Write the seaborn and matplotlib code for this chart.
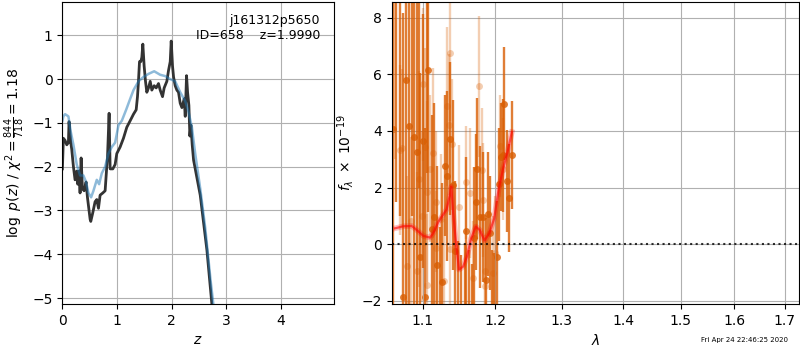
import numpy as np
import pandas as pd
import seaborn as sns
import matplotlib.pyplot as plt
from matplotlib.ticker import ScalarFormatter, NullLocator

# p(z) curves (left panel)
z_fit = [0.0, 0.018, 0.049, 0.080, 0.110, 0.122, 0.153, 0.171, 0.202, 0.232,
         0.263, 0.281, 0.306, 0.324, 0.343, 0.367, 0.398, 0.434, 0.459, 0.508,
         0.520, 0.557, 0.599, 0.630, 0.661, 0.691, 0.740, 0.783, 0.813, 0.826,
         0.856, 0.875, 0.924, 0.966, 0.997, 1.058, 1.119, 1.180, 1.242, 1.303,
         1.352, 1.376, 1.394, 1.413, 1.437, 1.456, 1.474, 1.498, 1.523, 1.547,
         1.578, 1.609, 1.639, 1.682, 1.719, 1.761, 1.792, 1.835, 1.865, 1.914,
         1.945, 1.976, 1.994, 2.018, 2.037, 2.067, 2.098, 2.128, 2.159, 2.190,
         2.232, 2.251, 2.275, 2.294, 2.318, 2.336, 2.355, 2.379, 2.404, 2.526,
         2.648, 2.740, 2.800]
logpz_fit = [-2.05, -1.35, -1.40, -1.50, -1.45, -0.97, -1.45, -1.60, -2.00, -2.30,
             -2.10, -2.40, -2.10, -2.60, -1.80, -2.50, -2.55, -2.35, -2.70, -3.20,
             -3.25, -3.05, -2.80, -2.75, -2.95, -2.65, -2.60, -2.55, -2.00, -1.80,
             -0.78, -2.05, -2.05, -1.95, -1.70, -1.55, -1.35, -1.10, -0.95, -0.80,
             -0.70, -0.40, -0.05, 0.40, 0.40, 0.50, 0.80, 0.30, -0.05, -0.30,
             -0.20, -0.05, -0.25, -0.15, -0.20, -0.10, -0.25, -0.40, -0.20, -0.05,
             0.20, 0.40, 0.87, 0.30, 0.05, -0.15, -0.25, -0.30, -0.55, -0.65,
             -0.45, -0.85, 0.08, -0.30, -0.60, -1.30, -1.05, -1.50, -1.85, -2.65,
             -3.90, -5.15, -5.70]

z_prior = [0.0, 0.018, 0.049, 0.110, 0.153, 0.202, 0.263, 0.324, 0.385, 0.434,
           0.477, 0.526, 0.569, 0.630, 0.673, 0.722, 0.783, 0.844, 0.905, 0.966,
           1.028, 1.089, 1.168, 1.242, 1.303, 1.394, 1.486, 1.578, 1.682, 1.792,
           1.884, 1.976, 2.067, 2.159, 2.251, 2.312, 2.373, 2.434, 2.526, 2.618,
           2.716, 2.800]
logpz_prior = [-0.95, -0.85, -0.80, -0.85, -1.20, -1.50, -1.95, -2.20, -2.20, -2.35,
               -2.60, -2.70, -2.55, -2.30, -2.40, -2.15, -2.00, -1.70, -1.55, -1.45,
               -1.05, -0.95, -0.70, -0.45, -0.25, -0.05, 0.05, 0.12, 0.18, 0.10,
               0.07, 0.00, -0.05, -0.30, -0.50, -0.75, -1.10, -1.70, -2.50, -3.40,
               -4.60, -5.50]

# spectrum, first beam (solid points)
wave_a = [1.0617, 1.0655, 1.0705, 1.0738, 1.0781, 1.0824, 1.0860, 1.0889, 1.0929, 1.0950,
          1.0964, 1.1008, 1.1034, 1.1050, 1.1074, 1.1119, 1.1154, 1.1186, 1.1230, 1.1261,
          1.1298, 1.1320, 1.1365, 1.1410, 1.1440, 1.1470, 1.1520, 1.1570, 1.1585, 1.1630,
          1.1670, 1.1705, 1.1724, 1.1742, 1.1789, 1.1826, 1.1863, 1.1901, 1.1929, 1.1960,
          1.1990, 1.2022, 1.2051, 1.2085, 1.2108, 1.2132, 1.2180, 1.2204, 1.2252]
flux_a = [4.08, 9.5, 10.0, -1.85, 5.79, 4.17, 9.0, 3.77, 3.25, 9.5,
          -0.47, 3.64, -1.88, 10.0, 6.14, 0.55, 0.97, -0.73, -2.6, -1.33,
          2.77, 2.42, 3.73, 2.09, -0.26, -2.5, -2.8, -2.3, 0.48, -2.6,
          -3.0, 0.23, 1.48, 2.67, 0.95, 0.95, -1.26, 1.07, 0.39, -2.9,
          -2.7, -0.47, 2.11, 3.08, 3.14, 4.96, 2.23, 1.63, 3.14]
err_a = [7.0, 8.0, 9.0, 10.0, 8.0, 7.0, 8.0, 6.0, 6.0, 7.5,
         6.5, 4.5, 6.0, 7.5, 5.0, 4.0, 4.0, 3.5, 3.2, 3.5,
         2.5, 3.0, 2.7, 3.0, 2.5, 2.6, 2.4, 2.3, 2.6, 2.4,
         2.3, 2.5, 2.4, 2.5, 2.5, 2.3, 2.2, 2.2, 2.0, 2.7,
         2.4, 2.0, 2.0, 1.9, 2.0, 2.0, 1.8, 1.9, 1.9]

# spectrum, second beam (faint points)
wave_b = [1.0640, 1.0700, 1.0727, 1.0799, 1.0850, 1.0921, 1.0947, 1.0985, 1.1008, 1.1034,
          1.1053, 1.1061, 1.1097, 1.1141, 1.1170, 1.1177, 1.1250, 1.1290, 1.1320, 1.1355,
          1.1365, 1.1370, 1.1396, 1.1490, 1.1585, 1.1640, 1.1690, 1.1772, 1.1816, 1.1826,
          1.1850, 1.1860, 1.1970, 1.1995, 1.2070, 1.2108]
flux_b = [9.0, 3.32, 3.40, -0.79, 0.80, -0.96, 2.30, 1.00, 5.64, 3.44,
          1.85, -1.43, 2.67, 3.23, -0.13, 1.50, 0.90, -1.30, 4.87, 4.22,
          6.76, -0.18, 3.52, 1.30, 2.18, 1.82, -1.18, 5.57, 2.62, 1.56,
          -0.96, -1.47, -1.02, -0.30, 3.47, 2.67]
err_b = [6.0, 3.0, 2.8, 3.2, 3.0, 3.5, 3.8, 3.0, 2.7, 3.5,
         3.2, 2.5, 2.6, 3.0, 2.0, 2.5, 2.3, 2.2, 2.8, 2.5,
         2.4, 2.2, 2.3, 2.2, 2.0, 2.3, 2.0, 2.5, 2.2, 2.0,
         2.0, 1.8, 2.0, 2.0, 1.8, 1.8]

# best-fit model
wave_model = [1.0639, 1.0746, 1.0855, 1.0920, 1.1008, 1.1097, 1.1140, 1.1210, 1.1270, 1.1320,
              1.1365, 1.1383, 1.1410, 1.1445, 1.1490, 1.1547, 1.1600, 1.1660, 1.1724, 1.1779,
              1.1848, 1.1917, 1.1987, 1.2049, 1.2116, 1.2180, 1.2244]
flux_model = [0.56, 0.63, 0.64, 0.50, 0.29, 0.23, 0.39, 0.80, 1.03, 1.23,
              1.74, 2.03, 1.09, 0.15, -0.90, -0.79, -0.44, 0.21, 0.62, 0.50,
              0.13, 0.39, 0.91, 1.91, 2.67, 3.26, 3.96]

orange = (0.85, 0.37, 0.01)

fig = plt.figure(figsize=(8, 3.5), dpi=100)
ax1 = fig.add_axes([0.078, 0.131, 0.339, 0.863])
ax2 = fig.add_axes([0.49, 0.131, 0.509, 0.863])

# left: log p(z)
sns.lineplot(x=z_fit, y=logpz_fit, ax=ax1, color='0.2', lw=2, estimator=None, sort=False)
sns.lineplot(x=z_prior, y=logpz_prior, ax=ax1, color='#1f77b4', alpha=0.5, lw=1.8,
             estimator=None, sort=False)
ax1.set_xlim(0, 4.97)
ax1.set_ylim(-5.14, 1.76)
ax1.set_yticks([-5, -4, -3, -2, -1, 0, 1])
ax1.set_xticks([0, 1, 2, 3, 4])
ax1.grid(True)
ax1.set_xlabel('$z$')
ax1.set_ylabel(r'$\log\ p(z)$' + ' / ' + r'$\chi^2=\frac{844}{718}=1.18$')
ax1.text(0.95, 0.96, 'j161312p5650\nID=658    z=1.9990', ha='right', va='top',
         transform=ax1.transAxes, fontsize=9)

# right: spectrum
ax2.errorbar(wave_b, flux_b, yerr=err_b, fmt='none', ecolor=orange, alpha=0.3, elinewidth=1.7)
ax2.errorbar(wave_a, flux_a, yerr=err_a, fmt='none', ecolor=orange, alpha=0.8, elinewidth=1.7)
sns.scatterplot(x=wave_b, y=flux_b, ax=ax2, color=orange, alpha=0.3, s=25, linewidth=0)
sns.scatterplot(x=wave_a, y=flux_a, ax=ax2, color=orange, alpha=0.8, s=25, linewidth=0)
sns.lineplot(x=wave_model, y=flux_model, ax=ax2, color='red', alpha=0.25, lw=4,
             estimator=None, sort=False)
sns.lineplot(x=wave_model, y=flux_model, ax=ax2, color='red', alpha=0.6, lw=1.6,
             estimator=None, sort=False)
ax2.axhline(0, color='k', ls=':', lw=1.5, alpha=0.8)

ax2.set_xscale('log')
ax2.set_xlim(1.06, 1.73)
ax2.set_ylim(-2.12, 8.55)
ax2.set_xticks([1.1, 1.2, 1.3, 1.4, 1.5, 1.6, 1.7])
ax2.xaxis.set_major_formatter(ScalarFormatter())
ax2.xaxis.set_minor_locator(NullLocator())
ax2.set_yticks([-2, 0, 2, 4, 6, 8])
ax2.grid(True)
ax2.set_xlabel(r'$\lambda$')
ax2.set_ylabel(r'$f_\lambda\ \times\ 10^{-19}$')

fig.text(0.985, 0.02, 'Fri Apr 24 22:46:25 2020', ha='right', va='bottom', fontsize=5)

fig.savefig('out.png', dpi=100)
